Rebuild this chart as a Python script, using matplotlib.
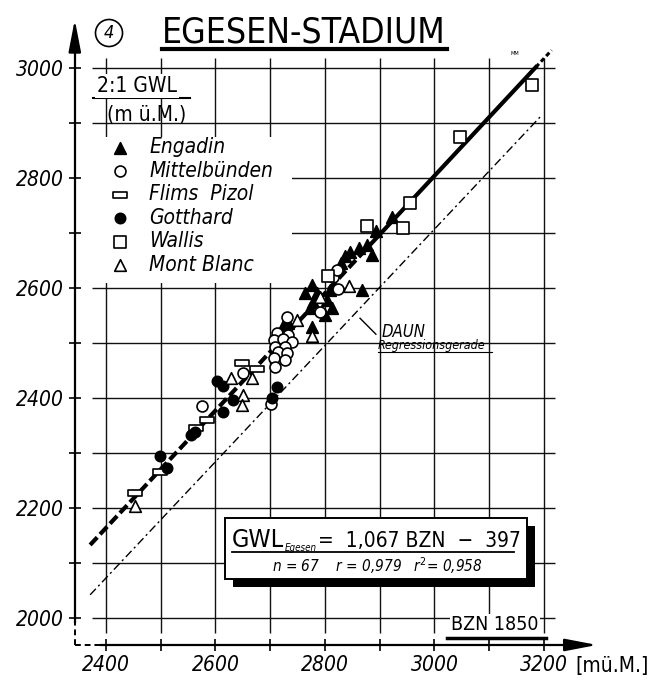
import matplotlib.pyplot as plt
from matplotlib.path import Path
from matplotlib.patches import Rectangle

plt.rcParams['font.family'] = ['DejaVu Sans']
plt.rcParams['font.stretch'] = 'condensed'

# BZN 1850 (x) against 2:1 GWL (y), both in m ü.M.
engadin_x = [2723, 2733, 2776, 2763, 2776, 2785, 2809, 2867, 2778, 2803, 2812,
             2772, 2800, 2836, 2845, 2862, 2876, 2885, 2893, 2922, 2830]
engadin_y = [2530, 2537, 2529, 2591, 2605, 2591, 2596, 2596, 2575, 2578, 2564,
             2564, 2551, 2658, 2665, 2673, 2678, 2660, 2703, 2729, 2645]

mittel_x = [2712, 2733, 2706, 2724, 2739, 2709, 2727, 2715, 2730, 2706, 2727,
            2709, 2576, 2650, 2702, 2730, 2791, 2824, 2815, 2822]
mittel_y = [2518, 2515, 2506, 2507, 2502, 2493, 2493, 2484, 2481, 2472, 2469,
            2457, 2386, 2446, 2389, 2548, 2557, 2598, 2620, 2632]

flims_x = [2453, 2499, 2565, 2584, 2648, 2675]
flims_y = [2227, 2266, 2345, 2360, 2463, 2452]

gotthard_x = [2499, 2512, 2556, 2562, 2602, 2613, 2614, 2632, 2712, 2703]
gotthard_y = [2294, 2273, 2333, 2338, 2431, 2422, 2375, 2396, 2420, 2400]

wallis_x = [2805, 2877, 2942, 2955, 3046, 3179]
wallis_y = [2622, 2713, 2709, 2755, 2874, 2969]

montblanc_x = [2453, 2629, 2666, 2650, 2649, 2748, 2776, 2791, 2843]
montblanc_y = [2204, 2437, 2436, 2405, 2387, 2542, 2513, 2584, 2603]

# regression lines
egesen_slope, egesen_icpt = 1.067, -397
daun_slope, daun_icpt = 1.057, -464
egesen_dashed = [2371, 2870]
egesen_solid = [2870, 3185]
egesen_tail = [3185, 3214]
daun_x = [2371, 3197]

grid_x = list(range(2400, 3201, 100))
grid_y = list(range(2000, 3001, 100))
xticks = [2400, 2600, 2800, 3000, 3200]
yticks = [2000, 2200, 2400, 2600, 2800, 3000]

fig = plt.figure(figsize=(6.52, 6.86), dpi=100)
ax = fig.add_axes([0, 0, 1, 1])
ax.set_xlim(2206.4, 3397.3)
ax.set_ylim(1876.4, 3123.6)

# hand drawn grid
ax.hlines(grid_y, 2375, 3220, color='#111111', lw=1.0, zorder=1)
ax.vlines(grid_x, 1973, 3018, color='#111111', lw=1.0, zorder=1)
# blank area behind legend
ax.add_patch(Rectangle((2375, 2609), 365, 265, fc='white', ec='none', zorder=1.5))

# axes
for s in ['top', 'right']:
    ax.spines[s].set_visible(False)
ax.spines['left'].set_position(('data', 2343))
ax.spines['bottom'].set_position(('data', 1951))
ax.spines['left'].set_bounds(1992, 3060)
ax.spines['bottom'].set_bounds(2390, 3265)
ax.spines['left'].set_linewidth(1.6)
ax.spines['bottom'].set_linewidth(1.6)
ax.plot([2343, 2343], [1951, 1992], color='black', lw=1.4, ls=(0, (3, 2)))
ax.plot([2343, 2390], [1951, 1951], color='black', lw=1.4, ls=(0, (3, 2)))
arrow = dict(arrowstyle='-|>,head_length=1.3,head_width=0.25',
             mutation_scale=15, lw=1.6, color='black')
ax.annotate('', xy=(2343, 3093), xytext=(2343, 3055), arrowprops=arrow)
ax.annotate('', xy=(3302, 1951), xytext=(3260, 1951), arrowprops=arrow)

ax.set_xticks(xticks, labels=[str(v) for v in xticks], fontstyle='italic', fontsize=15)
ax.set_yticks(yticks, labels=[str(v) for v in yticks], fontstyle='italic', fontsize=15)
ax.set_xticks(grid_x, minor=True)
ax.set_yticks(grid_y, minor=True)
ax.tick_params(which='both', direction='inout', length=9, width=1.2, pad=3)

# regression lines
ax.plot(daun_x, [daun_slope * v + daun_icpt for v in daun_x], color='black',
        lw=1.0, ls=(0, (6, 2.5, 1.5, 2.5)), zorder=2)
ax.plot(egesen_dashed, [egesen_slope * v + egesen_icpt for v in egesen_dashed],
        color='black', lw=3.0, ls=(0, (2.5, 1)), zorder=3)
ax.plot(egesen_solid, [egesen_slope * v + egesen_icpt for v in egesen_solid],
        color='black', lw=3.0, zorder=3)
ax.plot(egesen_tail, [egesen_slope * v + egesen_icpt for v in egesen_tail],
        color='black', lw=2.2, ls=(0, (1.5, 1)), zorder=3)

rect = Path([(-1, -0.42), (1, -0.42), (1, 0.42), (-1, 0.42), (-1, -0.42)],
            [Path.MOVETO, Path.LINETO, Path.LINETO, Path.LINETO, Path.CLOSEPOLY])
kw = dict(linewidths=1.2, zorder=4)
ax.scatter(engadin_x, engadin_y, marker='^', s=70, c='black', edgecolors='black', label='Engadin', **kw)
ax.scatter(mittel_x, mittel_y, marker='o', s=62, c='white', edgecolors='black', label='Mittelbünden', **kw)
ax.scatter(flims_x, flims_y, marker=rect, s=100, c='white', edgecolors='black', label='Flims  Pizol', **kw)
ax.scatter(gotthard_x, gotthard_y, marker='o', s=55, c='black', edgecolors='black', label='Gotthard', **kw)
ax.scatter(wallis_x, wallis_y, marker='s', s=70, c='white', edgecolors='black', label='Wallis', **kw)
ax.scatter(montblanc_x, montblanc_y, marker='^', s=70, c='white', edgecolors='black', label='Mont Blanc', **kw)

ax.legend(loc='upper left', bbox_to_anchor=(0.168, 0.80), frameon=False,
          prop=dict(style='italic', size=15), handlelength=1.0, handletextpad=0.9,
          labelspacing=0.17, borderpad=0, borderaxespad=0)

# title
ax.text(2762, 3047, 'EGESEN-STADIUM', fontsize=25.5, ha='center', va='baseline')
ax.plot([2502, 3023], [3034.5, 3034.5], color='black', lw=3)
ax.text(2405.5, 3063.6, '4', fontsize=13, fontstyle='italic', ha='center', va='center',
        bbox=dict(boxstyle='circle,pad=0.25', fc='white', ec='black', lw=1.2))
ax.text(3147, 3024, 'MM', fontsize=4, ha='center')

# y axis caption
ax.text(2383.6, 2956, '2:1 GWL', fontsize=15, va='baseline',
        bbox=dict(fc='white', ec='none', pad=1.5))
ax.plot([2376, 2553], [2945.5, 2945.5], color='black', lw=1.5)
ax.text(2401.8, 2904, '(m ü.M.)', fontsize=15, va='baseline')

# x axis caption
ax.text(3030, 1978, 'BZN 1850', fontsize=14, va='baseline',
        bbox=dict(fc='white', ec='none', pad=1))
ax.plot([3023, 3204], [1963.6, 1963.6], color='black', lw=2.5)
ax.text(3258, 1901, '[mü.M.]', fontsize=15, va='baseline')

# DAUN label
ax.text(2904, 2511, 'DAUN', fontsize=12, fontstyle='italic', va='baseline')
ax.text(2897, 2489, 'Regressionsgerade', fontsize=9, fontstyle='italic', va='baseline')
ax.plot([2897, 3105], [2484, 2484], color='black', lw=0.8)
ax.plot([2864, 2893], [2545, 2516], color='black', lw=1.0)

# equation box
ax.add_patch(Rectangle((2632, 2056.5), 551.6, 110.9, fc='black', ec='none', zorder=5))
ax.add_patch(Rectangle((2617.4, 2070.9), 551.6, 110.9, fc='white', ec='black', lw=1.4, zorder=6))
ax.text(2630, 2129, 'GWL', fontsize=18, va='baseline', zorder=7)
ax.text(2726, 2122, 'Egesen', fontsize=7, fontstyle='italic', va='baseline', zorder=7)
ax.text(2787, 2129, '=  1,067 BZN  −  397', fontsize=15, va='baseline', zorder=7)
ax.plot([2630, 3145], [2120, 2120], color='black', lw=1.3, zorder=7)
ax.text(2895, 2084, 'n = 67    r = 0,979   r$^2$= 0,958', fontsize=11,
        fontstyle='italic', ha='center', va='baseline', zorder=7)

fig.savefig('out.png', dpi=100)
